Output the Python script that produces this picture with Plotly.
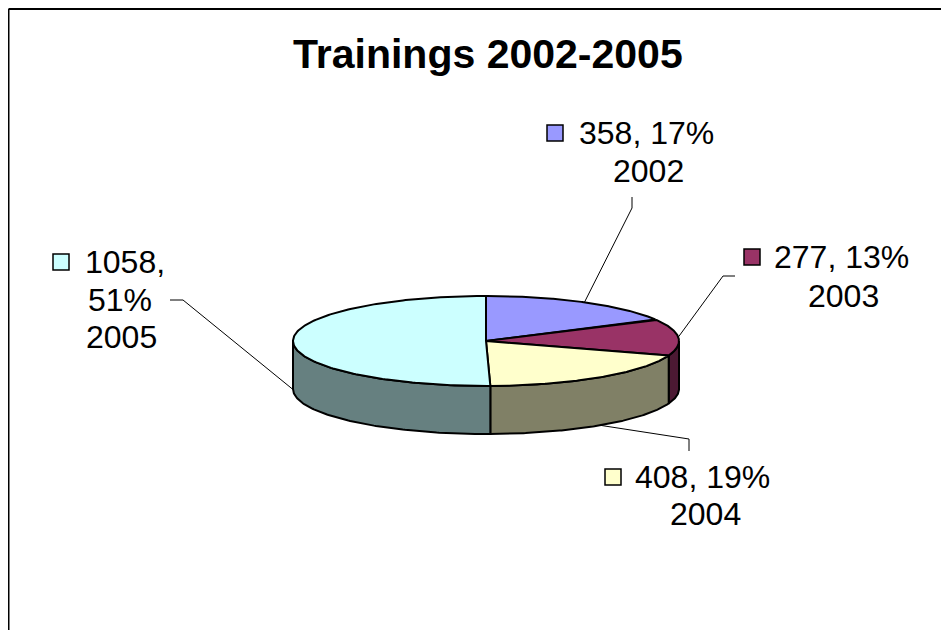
import numpy as np
import plotly.graph_objects as go

# ---- data ----
years = ["2002", "2003", "2004", "2005"]
values = [358, 277, 408, 1058]
pct_labels = [17, 13, 19, 51]          # percentages as printed on the chart
top_colors = ["#9999FF", "#993366", "#FFFFCC", "#CCFFFF"]
side_colors = ["#4C4C80", "#4C1933", "#808066", "#668080"]
title_text = "Trainings 2002-2005"

# ---- geometry (pixel-like axes) ----
W, H = 949, 630
OFF = 8                # page body margin compensation
CX, CY = 486, 341      # centre of top face
RA, RB = 193, 45       # ellipse radii
DEPTH = 48

# label placement (layout only)
label_pos = {
    "2002": dict(key=(555, 133), line1=(577, 133), line2=(648, 171), elbow=[(632, 197), (632, 208)]),
    "2003": dict(key=(752, 257), line1=(772, 257), line2=(843, 296), elbow=[(735, 276), (723, 276)]),
    "2004": dict(key=(613, 477), line1=(633, 477), line2=(705, 514), elbow=[(689, 451), (689, 439)]),
    "2005": dict(key=(61, 262), line1=(83, 262), line2=(120, 300), line3=(121, 337), elbow=[(170, 300), (183, 300)]),
}


def ell(theta_deg, dy=0.0):
    t = np.radians(theta_deg)
    return CX + RA * np.sin(t), CY - RB * np.cos(t) + dy


fig = go.Figure()

total = float(sum(values))
angles = np.concatenate([[0.0], np.cumsum(values) / total * 360.0])

# side faces (front half only: 90..270 deg clockwise from top)
for i in range(len(values)):
    a0, a1 = max(angles[i], 90.0), min(angles[i + 1], 270.0)
    if a1 <= a0:
        continue
    th = np.linspace(a0, a1, 120)
    xt, yt = ell(th)
    xb, yb = ell(th[::-1], DEPTH)
    xs = np.concatenate([xt, xb, [xt[0]]])
    ys = np.concatenate([yt, yb, [yt[0]]])
    fig.add_trace(go.Scatter(x=xs, y=ys, mode="lines", fill="toself",
                             fillcolor=side_colors[i],
                             line=dict(color="black", width=2),
                             hoverinfo="skip", showlegend=False))

# top faces
for i in range(len(values)):
    th = np.linspace(angles[i], angles[i + 1], 200)
    xt, yt = ell(th)
    xs = np.concatenate([[CX], xt, [CX]])
    ys = np.concatenate([[CY], yt, [CY]])
    fig.add_trace(go.Scatter(x=xs, y=ys, mode="lines", fill="toself",
                             fillcolor=top_colors[i],
                             line=dict(color="black", width=2),
                             hoverinfo="skip", showlegend=False))

annotations = []
FONT = "Liberation Sans, Arial, sans-serif"
for i, yr in enumerate(years):
    p = label_pos[yr]
    mid = (angles[i] + angles[i + 1]) / 2.0
    dy = DEPTH if 90.0 < mid < 270.0 else 0.0
    ex, ey = ell(mid, dy)
    lx = [pt[0] for pt in p["elbow"]] + [ex]
    ly = [pt[1] for pt in p["elbow"]] + [ey]
    fig.add_trace(go.Scatter(x=lx, y=ly, mode="lines",
                             line=dict(color="black", width=1),
                             hoverinfo="skip", showlegend=False))
    fig.add_trace(go.Scatter(x=[p["key"][0]], y=[p["key"][1]], mode="markers",
                             marker=dict(symbol="square", size=16, color=top_colors[i],
                                         line=dict(color="black", width=1.5)),
                             hoverinfo="skip", showlegend=False))
    pct = pct_labels[i]
    if yr == "2005":
        lines = [(f"{values[i]},", p["line1"], "left"),
                 (f"{pct}%", p["line2"], "center"),
                 (yr, p["line3"], "center")]
    else:
        lines = [(f"{values[i]}, {pct}%", p["line1"], "left"),
                 (yr, p["line2"], "center")]
    for txt, (x, y), anc in lines:
        annotations.append(dict(x=x, y=y, xref="x", yref="y", text=txt,
                                showarrow=False, xanchor=anc, yanchor="middle",
                                font=dict(family=FONT, size=32, color="black")))

annotations.append(dict(x=488, y=54, xref="x", yref="y", text=f"<b>{title_text}</b>",
                        showarrow=False, xanchor="center", yanchor="middle",
                        font=dict(family=FONT, size=41, color="black")))

shapes = [
    dict(type="line", xref="x", yref="y", x0=8.5, y0=9, x1=W + OFF, y1=9,
         line=dict(color="black", width=2)),
    dict(type="line", xref="x", yref="y", x0=8.5, y0=9, x1=8.5, y1=H + OFF,
         line=dict(color="black", width=2)),
]

fig.update_layout(
    width=W, height=H, autosize=False,
    margin=dict(l=0, r=0, t=0, b=0),
    paper_bgcolor="white", plot_bgcolor="white",
    xaxis=dict(range=[OFF, W + OFF], visible=False, fixedrange=True),
    yaxis=dict(range=[H + OFF, OFF], visible=False, fixedrange=True),
    annotations=annotations, shapes=shapes, showlegend=False,
)

fig.write_html("out.html", config={"displayModeBar": False})
